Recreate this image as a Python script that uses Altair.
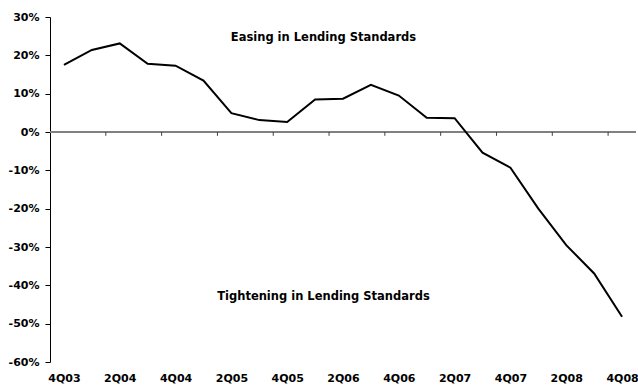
import altair as alt
import pandas as pd

# Net share of banks easing (+) / tightening (-) lending standards, by quarter
quarters = [
    "4Q03", "1Q04", "2Q04", "3Q04", "4Q04", "1Q05", "2Q05", "3Q05", "4Q05",
    "1Q06", "2Q06", "3Q06", "4Q06", "1Q07", "2Q07", "3Q07", "4Q07",
    "1Q08", "2Q08", "3Q08", "4Q08",
]
net_pct = [
    17.5, 21.4, 23.1, 17.8, 17.3, 13.4, 4.9, 3.1, 2.6,
    8.5, 8.7, 12.3, 9.5, 3.7, 3.6, -5.4, -9.3,
    -20.0, -29.5, -36.9, -48.2,
]
y_ticks = [-60, -50, -40, -30, -20, -10, 0, 10, 20, 30]
notes = ["Easing in Lending Standards", "Tightening in Lending Standards"]
note_y = [24.5, -43.0]

FONT = "DejaVu Sans"

df = pd.DataFrame({"idx": list(range(len(quarters))), "q": quarters, "v": net_pct})
label_idx = list(range(0, len(quarters), 2))
label_map = {i: quarters[i] for i in label_idx}
label_expr = "{" + ",".join(f"'{k}':'{v}'" for k, v in label_map.items()) + "}[datum.value]"

# category boundaries between every second quarter (tick marks on the zero line)
bounds = pd.DataFrame({
    "b": [i + 1.5 for i in range(0, len(quarters) - 2, 2)],
})
bounds["top"] = 0.0
bounds["bot"] = -1.0

xscale = alt.Scale(domain=[-0.5, len(quarters) - 0.5], nice=False, zero=False)
yscale = alt.Scale(domain=[-60, 30], nice=False)

x_axis = alt.Axis(
    values=label_idx, labelExpr=label_expr, ticks=False, domain=False, grid=False,
    labelFont=FONT, labelFontWeight="bold", labelFontSize=11, labelColor="black",
    labelPadding=10, labelAngle=0, title=None, labelFlush=False, labelOverlap=False,
    labelBound=False,
)
y_axis = alt.Axis(
    values=y_ticks, labelExpr="datum.value + '%'", grid=False,
    domainColor="black", domainWidth=1, tickColor="black", tickSize=5,
    labelFont=FONT, labelFontWeight="bold", labelFontSize=11, labelColor="black",
    labelPadding=6, title=None, labelFlush=False, labelOverlap=False, labelBound=False,
)

zero = alt.Chart(pd.DataFrame({"z": [0]})).mark_rule(color="#808080", strokeWidth=2).encode(
    y=alt.Y("z:Q", scale=yscale, axis=y_axis),
)

ticks = alt.Chart(bounds).mark_rule(color="#404040", strokeWidth=1).encode(
    x=alt.X("b:Q", scale=xscale, axis=x_axis),
    y=alt.Y("top:Q", scale=yscale, axis=y_axis),
    y2="bot:Q",
)

line = alt.Chart(df).mark_line(color="black", strokeWidth=2).encode(
    x=alt.X("idx:Q", scale=xscale, axis=x_axis),
    y=alt.Y("v:Q", scale=yscale, axis=y_axis),
)

notes_df = pd.DataFrame({"t": notes, "x": [9.3, 9.3], "y": note_y})
text = alt.Chart(notes_df).mark_text(
    font=FONT, fontWeight="bold", fontSize=11.5, color="black", align="center", baseline="middle"
).encode(
    x=alt.X("x:Q", scale=xscale, axis=x_axis),
    y=alt.Y("y:Q", scale=yscale, axis=y_axis),
    text="t:N",
)

chart = alt.layer(zero, ticks, line, text).properties(
    width=586, height=345,
    autosize=alt.AutoSizeParams(type="none"),
    padding={"left": 50, "top": 17, "right": 2, "bottom": 23},
    background="white",
).configure_view(stroke=None)

chart.save("out.html", embed_options={"renderer": "svg", "actions": False})
